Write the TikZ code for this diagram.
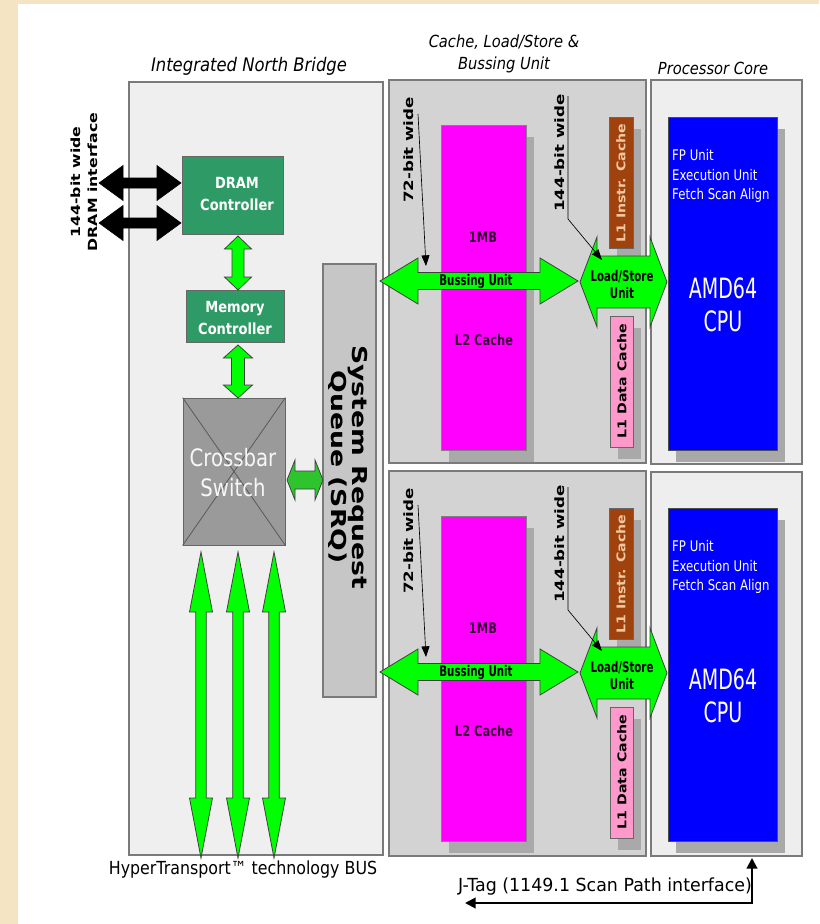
\documentclass[tikz,border=0pt]{standalone}
\usepackage{fontspec}
\setmainfont{DejaVu Sans}
\usetikzlibrary{fit,calc,shadows,arrows.meta}
\definecolor{bgbeige}{HTML}{F4E4C4}
\definecolor{nbfill}{HTML}{EFEFEF}
\definecolor{cachefill}{HTML}{D3D3D3}
\definecolor{procfill}{HTML}{EEEEEE}
\definecolor{bord}{HTML}{7A7A7A}
\definecolor{dramg}{HTML}{2E9A66}
\definecolor{xbarg}{HTML}{9A9A9A}
\definecolor{srqg}{HTML}{C6C6C6}
\definecolor{magc}{HTML}{FF00FF}
\definecolor{magtext}{HTML}{3A0038}
\definecolor{brownc}{HTML}{A0420E}
\definecolor{browntext}{HTML}{F0C8A0}
\definecolor{pinkc}{HTML}{FF99CC}
\definecolor{bluec}{HTML}{0000FF}
\definecolor{shg}{HTML}{A9A9A9}
\definecolor{grn}{HTML}{00FF00}
\definecolor{grnd}{HTML}{2EC42E}
% horizontal fat double arrow: style, x1, x2, yc, shaft half, head half, head length
\newcommand{\HArrow}[7]{\draw[#1] (#2,#4) -- (#2+#7,#4-#6) -- (#2+#7,#4-#5) -- (#3-#7,#4-#5) -- (#3-#7,#4-#6) -- (#3,#4) -- (#3-#7,#4+#6) -- (#3-#7,#4+#5) -- (#2+#7,#4+#5) -- (#2+#7,#4+#6) -- cycle;}
% vertical fat double arrow: style, xc, y1, y2, shaft half, head half, head length
\newcommand{\VArrow}[7]{\draw[#1] (#2,#3) -- (#2+#6,#3+#7) -- (#2+#5,#3+#7) -- (#2+#5,#4-#7) -- (#2+#6,#4-#7) -- (#2,#4) -- (#2-#6,#4-#7) -- (#2-#5,#4-#7) -- (#2-#5,#3+#7) -- (#2-#6,#3+#7) -- cycle;}
\tikzset{
  bigbox/.style={draw=bord, line width=1.3pt, inner sep=0pt},
  gbox/.style={draw=black!60, line width=0.6pt, fill=dramg, inner sep=0pt},
  xbarbox/.style={draw=black!60, line width=0.6pt, fill=xbarg, inner sep=0pt},
  srqbox/.style={draw=bord, line width=0.8pt, fill=srqg, inner sep=0pt},
  shad/.style={drop shadow={shadow xshift=6pt, shadow yshift=-9pt, fill=shg, opacity=1}},
  magbox/.style={draw=black!50, line width=0.5pt, fill=magc, inner sep=0pt, shad},
  l1ibox/.style={draw=black!60, line width=0.5pt, fill=brownc, inner sep=0pt, shad},
  l1dbox/.style={draw=black!60, line width=0.5pt, fill=pinkc, inner sep=0pt, shad},
  cpubox/.style={draw=black!70, line width=0.5pt, fill=bluec, inner sep=0pt, shad},
  fat/.style={fill=grn, draw=black!75, line width=0.6pt, line join=miter},
  fatdark/.style={fill=grnd, draw=black!75, line width=0.6pt, line join=miter},
  blkarrow/.style={fill=black, draw=black, line width=0.4pt, line join=miter},
  ttl/.style={font=\itshape\fontsize{12.5}{16.5}\selectfont, xscale=0.88, align=center, inner sep=0pt},
  gtxt/.style={font=\bfseries\fontsize{11.5}{16.5}\selectfont, text=white, xscale=0.85, align=center, inner sep=0pt},
  xtxt/.style={font=\fontsize{18}{22.5}\selectfont, text=black!3, xscale=0.82, align=center, inner sep=0pt},
  srqtxt/.style={font=\bfseries\fontsize{20}{21}\selectfont, rotate=-90, yscale=0.77, align=center, inner sep=0pt},
  magtxt/.style={font=\bfseries\fontsize{11}{13}\selectfont, text=magtext, xscale=0.78, inner sep=0pt},
  bustxt/.style={font=\bfseries\fontsize{11}{12.75}\selectfont, text=black, xscale=0.70, align=center, inner sep=0pt},
  cpusmall/.style={font=\fontsize{11}{13}\selectfont, text=white, xscale=0.8, inner sep=0pt, anchor=west},
  cpubig/.style={font=\fontsize{21}{24.5}\selectfont, text=white, xscale=0.68, align=center, inner sep=0pt},
  rottxt/.style={font=\bfseries\fontsize{12.5}{14}\selectfont, rotate=90, yscale=0.77, inner sep=0pt},
  l1txt/.style={font=\bfseries\fontsize{10.6}{12}\selectfont, rotate=90, yscale=0.85, inner sep=0pt},
  dramtxt/.style={font=\bfseries\fontsize{11.8}{16}\selectfont, rotate=90, yscale=0.8, align=center, inner sep=0pt},
  bottxt/.style={font=\fontsize{13.5}{15}\selectfont, xscale=0.88, inner sep=0pt},
  leader/.style={draw=black, line width=0.5pt, -{Triangle[length=8pt,width=6pt]}},
  jtag/.style={draw=black, line width=1.5pt, {Triangle[length=8pt,width=8pt]}-{Triangle[length=8pt,width=8pt]}},
}
\begin{document}
\begin{tikzpicture}[x=0.75pt,y=-0.75pt]
\useasboundingbox (0,0) rectangle (819,924);
\fill[bgbeige] (0,0) rectangle (819,924);
\fill[white] (18,4) rectangle (819,924);

% main boxes
\node[bigbox, fill=nbfill, fit={(129,82) (383,855)}] (nb) {};
\node[bigbox, fill=cachefill, fit={(389,80) (646,463)}] (cacheA) {};
\node[bigbox, fill=cachefill, fit={(389,471) (646,856)}] (cacheB) {};
\node[bigbox, fill=procfill, fit={(651,80) (802,464)}] (procA) {};
\node[bigbox, fill=procfill, fit={(651,472) (802,856)}] (procB) {};

% titles
\node[ttl, font=\itshape\fontsize{14}{16.5}\selectfont] (tnb) at (249,66) {Integrated North Bridge};
\node[ttl] (tcache) at (504,54) {Cache, Load/Store \&\\Bussing Unit};
\node[ttl] (tproc) at (713,68) {Processor Core};

% north bridge contents
\node[gbox, fit={(182,156) (283,234)}] (dram) {};
\node[gtxt] (dramt) at (237,194) {DRAM\\Controller};
\node[gbox, fit={(186,290) (284,342)}] (mem) {};
\node[gtxt] (memt) at (235,318) {Memory\\Controller};
\node[xbarbox, fit={(183,398) (285,545)}] (xbar) {};
\draw[black!65, line width=0.6pt] (xbar.north west) -- (xbar.south east) (xbar.north east) -- (xbar.south west);
\node[xtxt] (xbart) at (233,473) {Crossbar\\Switch};
\node[srqbox, fit={(323,264) (376,697)}] (srq) {};
\node[srqtxt] (srqt) at (348,467) {System Request\\Queue (SRQ)};

% DRAM interface
\HArrow{blkarrow}{99}{181}{183}{5}{17.5}{24}
\HArrow{blkarrow}{99}{181}{223}{5}{17.5}{24}
\node[dramtxt] (dramif) at (84,182) {144-bit wide\\DRAM interface};

% north bridge arrows
\VArrow{fat}{238}{236}{290}{6}{13.5}{13}
\VArrow{fat}{238}{345}{398}{6.5}{14.5}{13}
\HArrow{fatdark}{287}{323}{480}{9}{20}{8}
\VArrow{fat}{201}{552}{858}{5.3}{11.5}{60}
\VArrow{fat}{238}{552}{858}{5.3}{11.5}{60}
\VArrow{fat}{274}{552}{858}{5.3}{11.5}{60}

% cache + core units
\foreach \o/\s in {0/A,391/B}{
  \node[magbox, fit={(441,{125+\o}) (526,{450+\o})}] (l2\s) {};
  \node[magtxt] (mb\s) at (483,{237+\o}) {1MB};
  \node[magtxt] (l2t\s) at (484,{340+\o}) {L2 Cache};
  \node[l1ibox, fit={(609,{117+\o}) (633,{248+\o})}] (l1i\s) {};
  \node[l1txt, text=browntext] (l1it\s) at (621,{183+\o}) {L1 Instr. Cache};
  \node[l1dbox, fit={(610,{316+\o}) (633,{447+\o})}] (l1d\s) {};
  \node[l1txt, text=black] (l1dt\s) at (622,{381+\o}) {L1 Data Cache};
  \node[cpubox, fit={(668,{117+\o}) (777,{450+\o})}] (cpu\s) {};
  \node[cpusmall] (fp\s) at (672,{155+\o}) {FP Unit};
  \node[cpusmall] (ex\s) at (672,{175+\o}) {Execution Unit};
  \node[cpusmall] (fe\s) at (672,{195+\o}) {Fetch Scan Align};
  \node[cpubig] (amd\s) at (723,{305+\o}) {AMD64\\CPU};
  \HArrow{fat}{380}{578}{281+\o}{8.5}{23}{38}
  \node[bustxt] (bust\s) at (476,{282+\o}) {Bussing Unit};
  \HArrow{fat}{580}{667}{282+\o}{26}{45}{17}
  \node[bustxt] (lst\s) at (622,{285+\o}) {Load/Store\\Unit};
  \node[rottxt] (w72\s) at (409,{150+\o}) {72-bit wide};
  \node[rottxt] (w144\s) at (560,{153+\o}) {144-bit wide};
  \coordinate (a72s\s) at (418,{114+\o});
  \coordinate (a72e\s) at (426,{266+\o});
  \draw[leader] (a72s\s) -- (a72e\s);
  \coordinate (a144s\s) at (568,{96+\o});
  \coordinate (a144m\s) at (568,{219+\o});
  \coordinate (a144e\s) at (602,{260+\o});
  \draw[leader] (a144s\s) -- (a144m\s) -- (a144e\s);
}

% bottom labels
\node[bottxt] (ht) at (243,870) {HyperTransport™ technology BUS};
\node[bottxt, xscale=1.1] (jt) at (605,887) {J-Tag (1149.1 Scan Path interface)};
\coordinate (jt1) at (465,903);
\coordinate (jt2) at (752,903);
\coordinate (jt3) at (752,858);
\draw[jtag] (jt1) -- (jt2) -- (jt3);
\end{tikzpicture}
\end{document}
